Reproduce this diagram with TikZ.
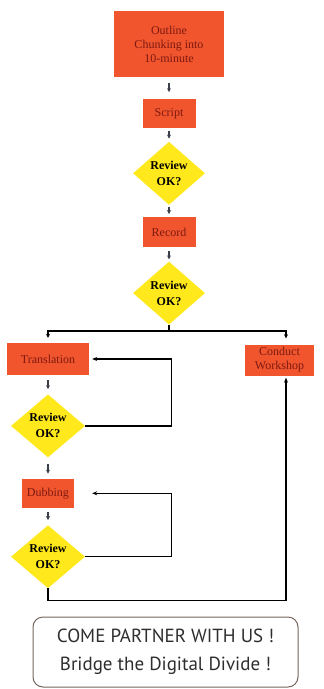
\documentclass[tikz,border=0pt]{standalone}
\usepackage{fontspec}
\setmainfont{Liberation Serif}
\newfontfamily\bannerfont{PT Sans}
\usetikzlibrary{positioning,shapes.geometric,arrows.meta,calc}
\definecolor{boxorange}{HTML}{F0552E}
\definecolor{boxtext}{HTML}{7E1A10}
\definecolor{checkyellow}{HTML}{FFE91C}
\definecolor{tipgray}{HTML}{3A3F4A}
\definecolor{bannerline}{HTML}{75655C}
\definecolor{bannertext}{HTML}{2E2E2E}

\begin{document}
\begin{tikzpicture}[
  x=1pt, y=-1pt,
  box/.style={
    fill=boxorange,
    text=boxtext,
    align=center,
    inner sep=0pt,
    font=\fontsize{12}{14}\selectfont,
  },
  check/.style={
    diamond,
    fill=checkyellow,
    align=center,
    inner sep=0pt,
    aspect=1.13,
    minimum width=72pt,
    minimum height=63pt,
    font=\fontsize{12}{16}\selectfont\bfseries,
  },
  flow/.style={draw=tipgray, line width=1.1pt, -{Stealth[length=4pt,width=4pt]}},
  trunk/.style={draw, line width=1.6pt, -{Stealth[length=4pt,width=4pt]}},
  back/.style={draw, line width=1.3pt, -{Stealth[length=5pt,width=4pt]}},
  banner/.style={
    draw=bannerline,
    line width=1pt,
    rounded corners=10pt,
    align=center,
    text=bannertext,
    minimum width=265pt,
    minimum height=70pt,
    font=\bannerfont\fontsize{19}{28}\selectfont,
  },
  ]
  \useasboundingbox (0,0) rectangle (324,689);
  % main column
  \node[box, minimum width=110pt, minimum height=66pt] (outline) at (169,44)
  {Outline\\Chunking into\\10-minute};
  \node[box, minimum width=53pt, minimum height=29pt, below=22pt of outline] (script) {Script};
  \node[check, below=13pt of script]             (review-script) {Review\\OK?};
  \node[box, minimum width=53pt, minimum height=30pt, below=12pt of review-script] (record) {Record};
  \node[check, below=14pt of record]             (review-record) {Review\\OK?};
  % left branch and workshop
  \node[box, minimum width=82pt, minimum height=32pt] (translation) at (48,359) {Translation};
  \node[box, minimum width=69pt, minimum height=31pt] (workshop) at (279.5,360) {Conduct\\Workshop};
  \node[check, minimum width=74pt, below=19pt of translation] (review-translation) {Review\\OK?};
  \node[box, minimum width=52pt, minimum height=29pt, below=21pt of review-translation] (dubbing) {Dubbing};
  \node[check, minimum width=74pt, below=17pt of dubbing] (review-dubbing) {Review\\OK?};
  \node[banner] (partner) at (165.5,652) {COME PARTNER WITH US !\\Bridge the Digital Divide !};
  % connectors
  \draw[flow, shorten <=6pt, shorten >=7pt] (outline) -- (script);
  \draw[flow, shorten <=2pt, shorten >=3pt] (script) -- (review-script);
  \draw[flow, shorten <=2pt, shorten >=3pt] (review-script) -- (record);
  \draw[flow, shorten <=4pt, shorten >=2pt] (record) -- (review-record);
  \draw[line width=1.6pt] (review-record.south) -- ++(0,6) coordinate (fork);
  \draw[trunk, shorten >=5pt] (fork) -| (translation.north);
  \draw[trunk, shorten >=6pt] (fork) -| ([xshift=6.5pt]workshop.north);
  \draw[flow, shorten <=5pt, shorten >=5pt] (translation) -- (review-translation);
  \draw[flow, shorten <=6pt, shorten >=5pt] (review-translation) -- (dubbing);
  \draw[flow, shorten <=4pt, shorten >=5pt] (dubbing) -- (review-dubbing);
  \draw[back, shorten >=3pt] (review-translation.east) -- ++(86,0) |- (translation.east);
  \draw[back, shorten >=18pt] (review-dubbing.east) -- ++(86,0) |- (dubbing.east);
  \draw[back, shorten >=2pt] (review-dubbing.south) -- ++(0,12) -| ([xshift=6.5pt]workshop.south);
\end{tikzpicture}
\end{document}
